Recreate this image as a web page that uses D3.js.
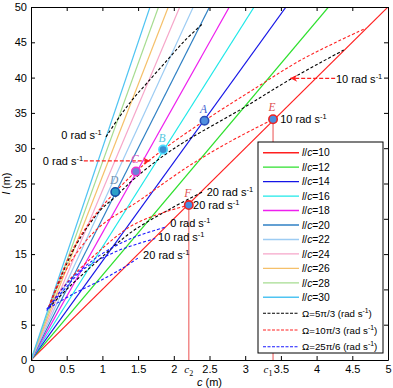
<!DOCTYPE html>
<html><head><meta charset="utf-8">
<script src="https://cdn.jsdelivr.net/npm/d3@7"></script>
<style>body{margin:0;background:#fff} svg text{font-family:"Liberation Sans",Arial,sans-serif}</style>
</head><body><svg id="chart" width="393" height="388"></svg>
<script>
// ---------------- data ----------------
const ratios = [10, 12, 14, 16, 18, 20, 22, 24, 26, 28, 30];
const xTicks = [0, 0.5, 1, 1.5, 2, 2.5, 3, 3.5, 4, 4.5, 5];
const yTicks = [0, 5, 10, 15, 20, 25, 30, 35, 40, 45, 50];
const omegaNames = ["Ω=5π/3", "Ω=10π/3", "Ω=25π/6"];

// Ω = 5π/3 (black) curves, [c, l]
const black0  = [[1.05,31.6],[1.25,34.6],[1.43,37.0],[1.63,39.3],[1.91,42.5],[2.15,45.2],[2.4,47.6]];
const black10 = [[0.25,7.5],[0.45,12.5],[0.66,16.8],[0.97,21.2],[1.18,23.1],[1.46,25.8],[1.88,29.1],[2.23,31.4],[2.94,35.5],[3.64,39.8],[4.38,43.9]];
const black20 = [[0.25,7.4],[0.55,10.5],[0.93,14.0],[1.39,18.0],[1.95,21.4],[2.4,23.8]];
// Ω = 10π/3 (red) curves
const red0  = [[0.27,8.1],[0.42,12.0],[0.56,15.2],[0.76,18.6],[0.95,21.2],[1.18,23.8],[1.47,26.7],[1.85,29.8],[2.43,33.9],[3.08,38.1],[3.8,42.6],[4.69,47.0]];
const red10 = [[0.25,7.6],[0.45,12.0],[0.7,16.0],[1.0,19.2],[1.49,22.4],[1.77,24.4],[2.23,27.6],[2.8,31.0],[3.39,34.1]];
const red20 = [[0.25,7.6],[0.55,11.5],[0.93,15.2],[1.39,18.9],[1.8,20.7],[2.21,21.95]];
// Ω = 25π/6 (blue) curves
const blue0  = [[0.22,7.0],[0.5,10.8],[0.93,14.6],[1.4,17.2],[1.88,18.8]];
const blue10 = [[0.22,7.2],[0.45,9.8],[0.73,12.8],[1.2,15.4],[1.74,17.2]];
const blue20 = [[0.24,7.3],[0.6,9.4],[1.0,11.4],[1.3,13.1],[1.52,14.6]];

const pointNames = ["A", "B", "C", "D", "E", "F"];
const pointC = [2.43, 1.85, 1.47, 1.18, 3.39, 2.21];
const pointL = [33.9, 29.8, 26.7, 23.8, 34.1, 21.95];
const c1 = 3.39, c2 = 2.21;

// ---------------- styles ----------------
const ratioColors = ["#ff1f1f","#2ee02e","#1414e6","#1ee8e8","#ee1fee","#2f80c4","#9dccf3","#f6a6c9","#f5c06a","#a6dc90","#4fc4f2"];
const omegaColors = ["#000000","#ff2020","#1a1aff"];
const pointFill = ["#4f8fe0","#3a8fd0","#6f7fd8","#2aa0c8","#4a8ee0","#4a8ee0"];
const pointStroke = ["#2a4fb8","#4fdcff","#ee33cc","#1450a8","#ee2222","#ee2222"];
const letterColor = ["#3e5fd0","#55c8e0","#dd55c8","#7090b0","#e05050","#e05050"];

const W = 393, H = 388;
const m = {l: 31, r: 5, t: 7, b: 28};
const x = d3.scaleLinear().domain([0, 5]).range([m.l, W - m.r]);
const y = d3.scaleLinear().domain([0, 50]).range([H - m.b, m.t]);

const svg = d3.select("#chart");
const defs = svg.append("defs");
defs.append("clipPath").attr("id", "clip").append("rect")
  .attr("x", x(0)).attr("y", y(50)).attr("width", x(5) - x(0)).attr("height", y(0) - y(50));
defs.append("marker").attr("id", "arrowR").attr("viewBox", "0 0 10 10")
  .attr("refX", 10).attr("refY", 5).attr("markerWidth", 8).attr("markerHeight", 7)
  .attr("markerUnits", "userSpaceOnUse").attr("orient", "auto")
  .append("path").attr("d", "M0,0 L10,5 L0,10 L3,5 Z").attr("fill", "#ff2020");

const plot = svg.append("g").attr("clip-path", "url(#clip)");

// l/c lines
ratios.forEach((k, i) => {
  const cEnd = Math.min(5, 50 / k);
  plot.append("line").attr("x1", x(0)).attr("y1", y(0)).attr("x2", x(cEnd)).attr("y2", y(k * cEnd))
    .attr("stroke", ratioColors[i]).attr("stroke-width", 1.2);
});

// dashed omega curves
const line = d3.line().x(d => x(d[0])).y(d => y(d[1])).curve(d3.curveCatmullRom);
const curves = [
  [black0, 0], [black10, 0], [black20, 0],
  [red0, 1], [red10, 1], [red20, 1],
  [blue0, 2], [blue10, 2], [blue20, 2]
];
curves.forEach(([pts, ci]) => {
  plot.append("path").attr("d", line(pts)).attr("fill", "none")
    .attr("stroke", omegaColors[ci]).attr("stroke-width", 1.1).attr("stroke-dasharray", "3,2");
});

// vertical c1, c2 lines
[[c1, pointL[4]], [c2, pointL[5]]].forEach(([cc, ll]) => {
  svg.append("line").attr("x1", x(cc)).attr("x2", x(cc)).attr("y1", y(ll)).attr("y2", y(0))
    .attr("stroke", "#f07878").attr("stroke-width", 1.3);
});

// axes
const axB = d3.axisBottom(x).tickValues(xTicks).tickFormat(d3.format("")).tickSizeInner(-4).tickSizeOuter(0).tickPadding(5);
const axL = d3.axisLeft(y).tickValues(yTicks).tickFormat(d3.format("")).tickSizeInner(-4).tickSizeOuter(0).tickPadding(4);
const axT = d3.axisTop(x).tickValues(xTicks).tickFormat("").tickSizeInner(-4).tickSizeOuter(0);
const axR = d3.axisRight(y).tickValues(yTicks).tickFormat("").tickSizeInner(-4).tickSizeOuter(0);
function styleAxis(g) {
  g.selectAll("text").attr("font-size", 11).attr("fill", "#000").style("font-family", "Liberation Sans, Arial, sans-serif");
  g.select(".domain").attr("stroke", "#000");
  g.selectAll(".tick line").attr("stroke", "#000");
}
svg.append("g").attr("transform", `translate(0,${y(0)})`).call(axB).call(styleAxis);
svg.append("g").attr("transform", `translate(${x(0)},0)`).call(axL).call(styleAxis);
svg.append("g").attr("transform", `translate(0,${y(50)})`).call(axT).call(styleAxis);
svg.append("g").attr("transform", `translate(${x(5)},0)`).call(axR).call(styleAxis);

// axis titles
const xt = svg.append("text").attr("x", x(2.5)).attr("y", H - 2).attr("text-anchor", "middle").attr("font-size", 11);
xt.append("tspan").attr("font-style", "italic").text("c");
xt.append("tspan").text(" (m)");
const yt = svg.append("text").attr("transform", `translate(10,${(y(0) + y(50)) / 2}) rotate(-90)`).attr("text-anchor", "middle").attr("font-size", 11);
yt.append("tspan").attr("font-style", "italic").text("l");
yt.append("tspan").text(" (m)");

// c1, c2 labels
function cLabel(cc, sub, dx) {
  const t = svg.append("text").attr("x", x(cc) + dx).attr("y", y(0) + 13).attr("text-anchor", "middle")
    .attr("font-size", 11).style("font-family", "Liberation Serif, serif");
  t.append("tspan").attr("font-style", "italic").text("c");
  t.append("tspan").attr("dy", 3).attr("font-size", 8).text(sub);
}
cLabel(c1, "1", -5);
cLabel(c2, "2", 0);

// rad s-1 label helper
function radLabel(px, py, val, anchor) {
  const t = svg.append("text").attr("x", px).attr("y", py).attr("font-size", 11).attr("text-anchor", anchor || "start");
  t.append("tspan").text(val + " rad s");
  t.append("tspan").attr("dy", -4).attr("font-size", 7.5).text("-1");
  return t;
}
// labels near curves
radLabel(x(0.99), y(31.3), 0, "end");
radLabel(x(4.27), y(39.3), 10);
radLabel(x(3.49), y(33.5), 10);
radLabel(x(2.27), y(21.4), 20);
radLabel(x(2.46), y(23.3), 20);
radLabel(x(1.95), y(18.8), 0);
radLabel(x(1.78), y(16.8), 10);
radLabel(x(1.57), y(14.3), 20);
radLabel(x(0.73), y(27.6), 0, "end");

// arrows
svg.append("line").attr("x1", x(0.74)).attr("x2", x(1.67)).attr("y1", y(28.2)).attr("y2", y(28.2))
  .attr("stroke", "#ff2020").attr("stroke-width", 1.2).attr("stroke-dasharray", "4,2").attr("marker-end", "url(#arrowR)");
svg.append("line").attr("x1", x(4.26)).attr("x2", x(3.63)).attr("y1", y(39.9)).attr("y2", y(39.9))
  .attr("stroke", "#ff2020").attr("stroke-width", 1.2).attr("stroke-dasharray", "4,2").attr("marker-end", "url(#arrowR)");

// key points
pointNames.forEach((n, i) => {
  svg.append("circle").attr("cx", x(pointC[i])).attr("cy", y(pointL[i])).attr("r", 4.2)
    .attr("fill", pointFill[i]).attr("stroke", pointStroke[i]).attr("stroke-width", 1.6);
  svg.append("text").attr("x", x(pointC[i]) - 1).attr("y", y(pointL[i]) - 8).attr("text-anchor", "middle")
    .attr("font-size", 11.5).attr("font-style", "italic").attr("fill", letterColor[i])
    .style("font-family", "Liberation Serif, serif").text(n);
});

// legend
const lg = svg.append("g");
lg.append("rect").attr("x", 258).attr("y", 142).attr("width", 125).attr("height", 211)
  .attr("fill", "#fff").attr("stroke", "#000").attr("stroke-width", 1);
ratios.forEach((k, i) => {
  const yy = 152.7 + i * 14.46;
  lg.append("line").attr("x1", 263).attr("x2", 299).attr("y1", yy).attr("y2", yy)
    .attr("stroke", ratioColors[i]).attr("stroke-width", 1.4);
  const t = lg.append("text").attr("x", 302).attr("y", yy + 3.7).attr("font-size", 10.3);
  t.append("tspan").attr("font-style", "italic").text("l");
  t.append("tspan").text("/");
  t.append("tspan").attr("font-style", "italic").text("c");
  t.append("tspan").text("=" + k);
});
omegaNames.forEach((nm, i) => {
  const yy = 313.3 + i * 16.7;
  lg.append("line").attr("x1", 263).attr("x2", 299).attr("y1", yy).attr("y2", yy)
    .attr("stroke", omegaColors[i]).attr("stroke-width", 1.1).attr("stroke-dasharray", "3,1.5");
  const t = lg.append("text").attr("x", 302).attr("y", yy + 3.7).attr("font-size", 9.7);
  t.append("tspan").text(nm + " (rad s");
  t.append("tspan").attr("dy", -4).attr("font-size", 6.8).text("-1");
  t.append("tspan").attr("dy", 4).text(")");
});
</script></body></html>
